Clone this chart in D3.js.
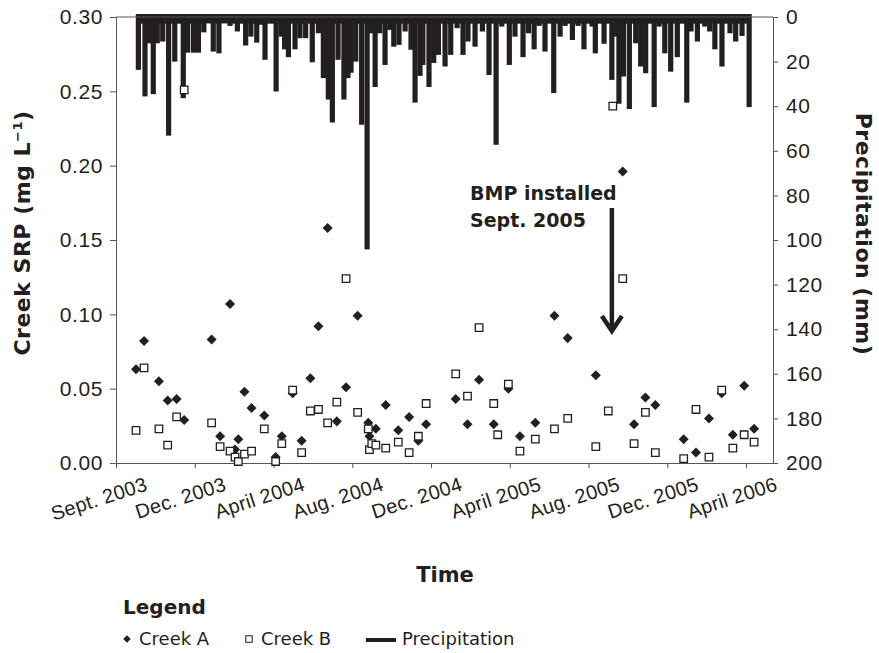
<!DOCTYPE html>
<html>
<head>
<meta charset="utf-8">
<script src="https://cdn.jsdelivr.net/npm/d3@7"></script>
<style>
  body { margin: 0; background: #fff; }
  svg { display: block; font-family: "DejaVu Sans", sans-serif; }
  .tick text { fill: #231f20; }
</style>
</head>
<body>
<svg id="chart" width="879" height="653"></svg>
<script>
// Decimal years; ticks every 4 months.
const tickYear = [2003.5833, 2003.9167, 2004.25, 2004.5833, 2004.9167, 2005.25, 2005.5833, 2005.9167, 2006.25];
const tickLabels = ["Sept. 2003", "Dec. 2003", "April 2004", "Aug. 2004", "Dec. 2004",
                    "April 2005", "Aug. 2005", "Dec. 2005", "April 2006"];

// Daily precipitation events (mm), plotted hanging from the top axis.
const precipYear = [
  2003.678, 2003.706, 2003.724, 2003.741, 2003.758, 2003.781, 2003.806, 2003.832, 2003.868, 2003.886,
  2003.911, 2003.932, 2003.955, 2003.977, 2003.995, 2004.019, 2004.042, 2004.066, 2004.097, 2004.132,
  2004.154, 2004.179, 2004.196, 2004.214, 2004.261, 2004.282, 2004.297, 2004.313, 2004.341, 2004.362,
  2004.386, 2004.414, 2004.440, 2004.461, 2004.482, 2004.499, 2004.523, 2004.548, 2004.565, 2004.578,
  2004.598, 2004.623, 2004.646, 2004.664, 2004.680, 2004.699, 2004.722, 2004.742, 2004.759, 2004.781,
  2004.807, 2004.832, 2004.849, 2004.870, 2004.882, 2004.908, 2004.928, 2004.948, 2004.976, 2005.000,
  2005.027, 2005.052, 2005.073, 2005.103, 2005.134, 2005.162, 2005.192, 2005.216, 2005.248, 2005.272,
  2005.306, 2005.329, 2005.353, 2005.374, 2005.399, 2005.436, 2005.463, 2005.484, 2005.515, 2005.539,
  2005.564, 2005.598, 2005.612, 2005.649, 2005.682, 2005.699, 2005.712, 2005.731, 2005.756, 2005.783,
  2005.804, 2005.825, 2005.861, 2005.882, 2005.906, 2005.931, 2005.959, 2005.999, 2006.017, 2006.044,
  2006.075, 2006.096, 2006.118, 2006.148, 2006.182, 2006.206, 2006.233, 2006.263
];
const precipMm = [
  23.7, 35.6, 11.8, 34.6, 11.8, 11.0, 53.2, 20.0, 36.4, 16.0,
  16.0, 16.0, 6.9, 2.8, 15.5, 16.3, 2.8, 4.0, 6.5, 12.8,
  8.8, 11.5, 3.5, 19.2, 33.4, 8.8, 14.5, 18.0, 14.5, 9.5,
  9.5, 20.3, 7.3, 27.4, 37.0, 47.3, 19.2, 37.0, 27.4, 25.0,
  20.0, 48.3, 104.2, 7.3, 31.4, 7.3, 21.5, 5.8, 13.3, 12.5,
  6.5, 14.7, 38.4, 26.4, 21.5, 31.4, 20.6, 17.0, 22.2, 17.0,
  5.0, 17.0, 11.0, 13.3, 6.5, 26.0, 57.3, 4.3, 21.5, 8.8,
  18.0, 7.3, 14.5, 4.0, 15.5, 34.1, 8.8, 4.0, 10.3, 4.0,
  14.5, 4.3, 16.3, 12.0, 28.2, 8.8, 38.9, 26.7, 41.3, 11.8,
  22.2, 25.2, 40.4, 4.3, 16.3, 24.5, 18.0, 38.4, 6.5, 11.0,
  4.3, 6.5, 14.5, 22.2, 7.3, 11.0, 8.5, 40.4
];

// Creek sampling dates and SRP (mg/L); null where no marker is visible.
const sampleYear = [
  2003.668, 2003.702, 2003.765, 2003.802, 2003.840, 2003.872, 2003.988, 2004.024, 2004.066, 2004.087,
  2004.101, 2004.127, 2004.157, 2004.211, 2004.259, 2004.285, 2004.331, 2004.369, 2004.406, 2004.440,
  2004.479, 2004.518, 2004.557, 2004.606, 2004.651, 2004.656, 2004.666, 2004.683, 2004.725, 2004.778,
  2004.824, 2004.863, 2004.896, 2005.021, 2005.071, 2005.120, 2005.182, 2005.199, 2005.244, 2005.293,
  2005.358, 2005.439, 2005.495, 2005.614, 2005.667, 2005.686, 2005.728, 2005.776, 2005.824, 2005.866,
  2005.986, 2006.038, 2006.093, 2006.147, 2006.194, 2006.242, 2006.284
];
const creekA = [
  0.063, 0.082, 0.055, 0.042, 0.043, 0.029, 0.083, 0.018, 0.107, 0.009,
  0.016, 0.048, 0.037, 0.032, 0.004, 0.018, 0.047, 0.015, 0.057, 0.092,
  0.158, 0.028, 0.051, 0.099, 0.027, 0.018, null, 0.023, 0.039, 0.022,
  0.031, 0.015, 0.026, 0.043, 0.026, 0.056, 0.026, null, 0.050, 0.018,
  0.027, 0.099, 0.084, 0.059, null, null, 0.196, 0.026, 0.044, 0.039,
  0.016, 0.007, 0.030, 0.047, 0.019, 0.052, 0.023
];
const creekB = [
  0.022, 0.064, 0.023, 0.012, 0.031, 0.251, 0.027, 0.011, 0.008, 0.004,
  0.001, 0.006, 0.008, 0.023, 0.001, 0.013, 0.049, 0.007, 0.035, 0.036,
  0.027, 0.041, 0.124, 0.034, 0.023, 0.009, 0.013, 0.012, 0.010, 0.014,
  0.007, 0.018, 0.040, 0.060, 0.045, 0.091, 0.040, 0.019, 0.053, 0.008,
  0.016, 0.023, 0.030, 0.011, 0.035, 0.240, 0.124, 0.013, 0.034, 0.007,
  0.003, 0.036, 0.004, 0.049, 0.010, 0.019, 0.014
];

const ink = "#231f20";
const svg = d3.select("#chart");
const M = { left: 116, right: 773, top: 17, bottom: 463 };

const x = d3.scaleLinear().domain([2003.5833, 2006.364]).range([M.left, M.right]);
const y = d3.scaleLinear().domain([0, 0.30]).range([M.bottom, M.top]);
const yP = d3.scaleLinear().domain([0, 200]).range([M.top, M.bottom]);

// precipitation: a shallow band joining neighbouring rain days, then the bars
const bars = svg.append("g");
bars.selectAll("rect.band").data(precipYear.slice(0, -1)).join("rect")
  .attr("class", "band")
  .attr("x", (d) => x(d))
  .attr("y", yP(0) - 3)
  .attr("width", (d, i) => x(precipYear[i + 1]) - x(d) + 0.5)
  .attr("height", (d, i) => yP(Math.min(3, precipMm[i], precipMm[i + 1])) - yP(0) + 3)
  .attr("fill", ink);
bars.selectAll("rect.bar").data(precipYear).join("rect")
  .attr("class", "bar")
  .attr("x", (d) => x(d) - 2.6)
  .attr("y", yP(0) - 3)
  .attr("width", 5.2)
  .attr("height", (d, i) => yP(precipMm[i]) - yP(0) + 3)
  .attr("fill", ink);

// axes
const axisColor = "#555";
const styleAxis = (g) => {
  g.select(".domain").attr("stroke", axisColor);
  g.selectAll(".tick line").attr("stroke", axisColor);
};

svg.append("line")
  .attr("x1", M.left).attr("x2", M.right).attr("y1", M.top).attr("y2", M.top)
  .attr("stroke", axisColor);

svg.append("g").attr("transform", `translate(${M.left},0)`)
  .call(d3.axisLeft(y).tickValues(d3.range(0, 0.301, 0.05)).tickFormat(d3.format(".2f")).tickSize(6).tickSizeOuter(0))
  .call(styleAxis)
  .call((g) => g.selectAll(".tick text").attr("font-size", 21).attr("x", -13).attr("letter-spacing", 0.6));

svg.append("g").attr("transform", `translate(${M.right},0)`)
  .call(d3.axisRight(yP).tickValues(d3.range(0, 201, 20)).tickSize(5).tickSizeOuter(0))
  .call(styleAxis)
  .call((g) => g.selectAll(".tick text").attr("font-size", 21).attr("x", 13).attr("letter-spacing", 0.6));

svg.append("g").attr("transform", `translate(0,${M.bottom})`)
  .call(d3.axisBottom(x).tickValues(tickYear).tickFormat((d, i) => tickLabels[i]).tickSize(5).tickSizeOuter(0))
  .call(styleAxis)
  .call((g) => g.selectAll(".tick text")
    .attr("font-size", 20)
    .attr("letter-spacing", 0.3)
    .attr("text-anchor", "end")
    .attr("y", 0).attr("dy", 0)
    .attr("transform", "translate(32,27) rotate(-18)"));

// creek markers
const diamond = d3.symbol().type(d3.symbolDiamond2).size(64);
const square = d3.symbol().type(d3.symbolSquare2).size(72);

const idxB = sampleYear.map((d, i) => i).filter((i) => creekB[i] != null);
const idxA = sampleYear.map((d, i) => i).filter((i) => creekA[i] != null);

svg.append("g").selectAll("path").data(idxA).join("path")
  .attr("transform", (i) => `translate(${x(sampleYear[i])},${y(creekA[i])})`)
  .attr("d", diamond)
  .attr("fill", ink);

svg.append("g").selectAll("path").data(idxB).join("path")
  .attr("transform", (i) => `translate(${x(sampleYear[i])},${y(creekB[i])})`)
  .attr("d", square)
  .attr("fill", "#fff")
  .attr("stroke", ink)
  .attr("stroke-width", 1.3);

// BMP annotation
const bmpYear = 2005.682;
svg.append("text").attr("x", 470).attr("y", 200)
  .attr("font-size", 19).attr("font-weight", "bold").attr("fill", ink)
  .text("BMP installed");
svg.append("text").attr("x", 470).attr("y", 227)
  .attr("font-size", 19).attr("font-weight", "bold").attr("fill", ink)
  .text("Sept. 2005");
svg.append("line")
  .attr("x1", x(bmpYear)).attr("x2", x(bmpYear))
  .attr("y1", 208).attr("y2", 328)
  .attr("stroke", ink).attr("stroke-width", 4.5);
svg.append("path")
  .attr("d", `M${x(bmpYear) - 10},${316} L${x(bmpYear)},${331} L${x(bmpYear) + 10},${316}`)
  .attr("fill", "none").attr("stroke", ink).attr("stroke-width", 4.5);

// axis titles
svg.append("text")
  .attr("transform", "translate(30,233) rotate(-90)")
  .attr("text-anchor", "middle")
  .attr("font-size", 22).attr("font-weight", "bold").attr("fill", ink).attr("letter-spacing", 0.5)
  .call((t) => {
    t.append("tspan").text("Creek SRP (mg L");
    t.append("tspan").attr("font-size", 13).attr("dy", -8).text("−1");
    t.append("tspan").attr("dy", 8).text(")");
  });

svg.append("text")
  .attr("transform", "translate(856,234) rotate(90)")
  .attr("text-anchor", "middle")
  .attr("font-size", 22).attr("font-weight", "bold").attr("fill", ink).attr("letter-spacing", 0.5)
  .text("Precipitation (mm)");

svg.append("text")
  .attr("x", 445).attr("y", 582)
  .attr("text-anchor", "middle")
  .attr("font-size", 21).attr("font-weight", "bold").attr("fill", ink)
  .text("Time");

// legend
svg.append("text").attr("x", 123).attr("y", 614)
  .attr("font-size", 20).attr("font-weight", "bold").attr("fill", ink)
  .text("Legend");

const legY = 645;
svg.append("path").attr("transform", `translate(127,${legY - 6})`)
  .attr("d", d3.symbol().type(d3.symbolDiamond2).size(36)).attr("fill", ink);
svg.append("text").attr("x", 139).attr("y", legY).attr("font-size", 18).attr("fill", ink).text("Creek A");
svg.append("path").attr("transform", `translate(249,${legY - 6})`)
  .attr("d", d3.symbol().type(d3.symbolSquare2).size(52))
  .attr("fill", "#fff").attr("stroke", ink).attr("stroke-width", 1.1);
svg.append("text").attr("x", 261).attr("y", legY).attr("font-size", 18).attr("fill", ink).text("Creek B");
svg.append("line").attr("x1", 366).attr("x2", 396).attr("y1", legY - 5).attr("y2", legY - 5)
  .attr("stroke", ink).attr("stroke-width", 4);
svg.append("text").attr("x", 402).attr("y", legY).attr("font-size", 18).attr("fill", ink).text("Precipitation");
</script>
</body>
</html>
